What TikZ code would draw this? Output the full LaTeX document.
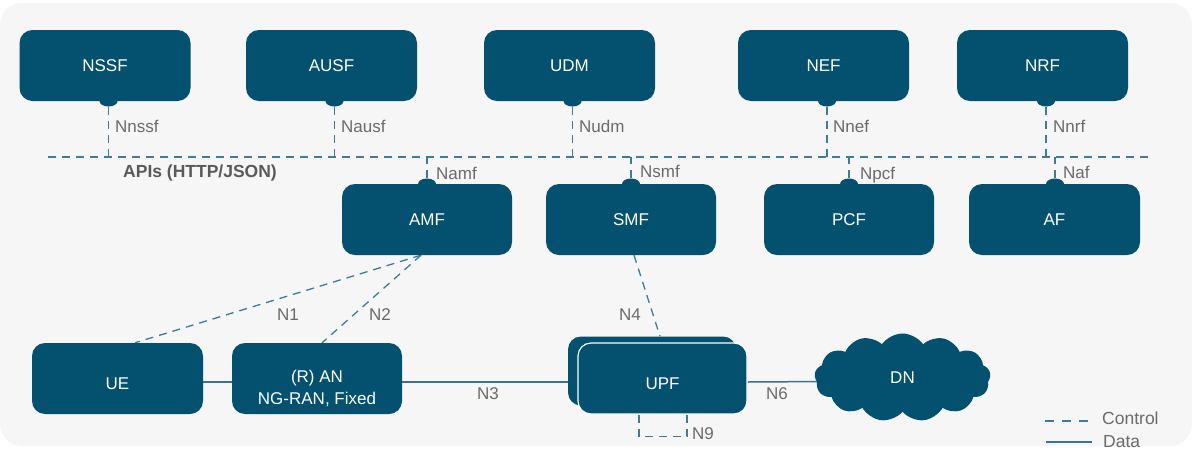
\documentclass[tikz,border=0pt]{standalone}
\usepackage{fontspec}
\setmainfont{Liberation Sans}
\usetikzlibrary{shapes.geometric,shapes.symbols,calc,backgrounds}
\definecolor{boxc}{HTML}{03506F}
\definecolor{ctrlc}{HTML}{3F7A97}
\definecolor{datac}{HTML}{3A7292}
\definecolor{lblc}{HTML}{6B6B6B}
\definecolor{apic}{HTML}{5A5A5A}
\definecolor{bgc}{HTML}{F6F6F6}
\begin{document}
\begin{tikzpicture}[x=1pt,y=-1pt,
  nf/.style={fill=boxc, rounded corners=13pt, minimum width=171pt, minimum height=71pt,
    inner sep=0pt, text=white, font=\fontsize{17}{20}\selectfont},
  lowtxt/.style={text height=21pt, text depth=0pt},
  port/.style={ellipse, fill=boxc, minimum width=18pt, minimum height=11pt, inner sep=0pt},
  ctrl/.style={draw=ctrlc, line width=1.3pt, dash pattern=on 8pt off 6pt},
  data/.style={draw=datac, line width=1.5pt},
  lbl/.style={text=lblc, font=\fontsize{17}{20}\selectfont, inner sep=0pt, anchor=base west},
]
\useasboundingbox (0,0) rectangle (1202,456);

% top row
\node[nf] (nssf) at (105,65.5) {NSSF};
\node[nf] (ausf) at (331.5,65.5) {AUSF};
\node[nf] (udm)  at (569.5,65.5) {UDM};
\node[nf] (nef)  at (823.5,65.5) {NEF};
\node[nf] (nrf)  at (1042.5,65.5) {NRF};
\node[port] (pnssf) at (108.5,101) {};
\node[port] (pausf) at (334.5,101) {};
\node[port] (pudm)  at (572.5,101) {};
\node[port] (pnef)  at (827,101) {};
\node[port] (pnrf)  at (1046,101) {};

% second row
\node[nf, minimum width=170pt] (amf) at (427,219.5) {AMF};
\node[nf, minimum width=170pt] (smf) at (631,219.5) {SMF};
\node[nf, minimum width=170pt] (pcf) at (849,219.5) {PCF};
\node[nf] (af)  at (1054.5,219.5) {AF};
\node[port] (pamf) at (427,184) {};
\node[port] (psmf) at (631,184) {};
\node[port] (ppcf) at (849,184) {};
\node[port] (paf)  at (1055,184) {};

% bottom row
\node[nf, lowtxt] (ue) at (117.5,378.5) {UE};
\node[nf, minimum width=170pt,
  label={[text=white, font=\fontsize{17}{22}\selectfont, align=center, yshift=-9.5pt]center:{(R) AN\\NG-RAN, Fixed}}]
  (an) at (317,378.5) {};
\node[nf, minimum width=168pt, minimum height=69pt] (upfb) at (652,371) {};
\node[nf, lowtxt, draw=white, line width=1.2pt, minimum width=169pt] (upf) at (662.5,378.5) {UPF};
\node[cloud, cloud puffs=13, cloud puff arc=110, aspect=1.7, fill=boxc,
  minimum width=176pt, minimum height=88pt, inner sep=0pt, text=white,
  font=\fontsize{17}{20}\selectfont] (dn) at (902.5,377.5) {DN};

% bus and helper points
\coordinate (busL) at (48,157);
\coordinate (busR) at (1148,157);
\coordinate (anout) at ($(an.east)+(0,3.5)$);
\coordinate (upfin) at (anout -| upfb.west);

\begin{pgfonlayer}{background}
  \fill[bgc, rounded corners=22pt] (0,3) rectangle (1192,446);
  \draw[ctrl] (busL) -- (busR);
  \foreach \p in {pnssf,pausf,pudm,pnef,pnrf}
    \draw[ctrl] (\p.south) -- (\p |- busL);
  \foreach \p in {pamf,psmf,ppcf,paf}
    \draw[ctrl] (\p.north) -- (\p |- busL);
  % control links
  \draw[ctrl] ($(amf.south)+(-6,0)$) -- ($(ue.north)+(17.5,0)$);
  \draw[ctrl] ($(amf.south)+(-6,0)$) -- ($(an.north)+(5,0)$);
  \draw[ctrl] ($(smf.south)+(3,0)$) -- ($(upfb.north)+(8,0)$);
  \coordinate (n9a) at ($(upf.south)+(-23.5,0)$);
  \coordinate (n9b) at ($(upf.south)+(24.5,0)$);
  \draw[ctrl] (n9a) -- ($(n9a)+(0,22)$) -| (n9b);
  % data links
  \draw[data] ($(ue.east)+(0,3.5)$) -- ($(an.west)+(0,3.5)$);
  \draw[data] (anout) -- (upfin);
  \draw[data] ($(upf.east)+(0,3.5)$) -- ($(dn.center)+(0,3.5)$);
\end{pgfonlayer}

% interface labels
\node[lbl] (lnssf) at (115,132) {Nnssf};
\node[lbl] (lausf) at (341,132) {Nausf};
\node[lbl] (ludm)  at (579,132) {Nudm};
\node[lbl] (lnef)  at (833,132) {Nnef};
\node[lbl] (lnrf)  at (1053,132) {Nnrf};
\node[lbl] (lamf)  at (436,179) {Namf};
\node[lbl] (lsmf)  at (640,177) {Nsmf};
\node[lbl] (lpcf)  at (860,179) {Npcf};
\node[lbl] (laf)   at (1063,178) {Naf};
\node[lbl, text=apic, font=\bfseries\fontsize{17.5}{20}\selectfont] (apis) at (123,177) {APIs (HTTP/JSON)};
\node[lbl] (ln1) at (277,320) {N1};
\node[lbl] (ln2) at (369,320) {N2};
\node[lbl] (ln4) at (619,320) {N4};
\node[lbl] (ln3) at (477,399) {N3};
\node[lbl] (ln6) at (766,399) {N6};
\node[lbl] (ln9) at (692,439) {N9};

% legend
\coordinate (lc1) at (1045,421);
\coordinate (lc2) at (1088,421);
\coordinate (ld1) at (1046,442);
\coordinate (ld2) at (1092,442);
\draw[ctrl, dash pattern=on 9pt off 8pt] (lc1) -- (lc2);
\draw[data] (ld1) -- (ld2);
\node[lbl, font=\fontsize{17.5}{20}\selectfont] (lctrl) at (1102,424) {Control};
\node[lbl, font=\fontsize{17.5}{20}\selectfont] (ldata) at (1103,447) {Data};
\end{tikzpicture}
\end{document}
